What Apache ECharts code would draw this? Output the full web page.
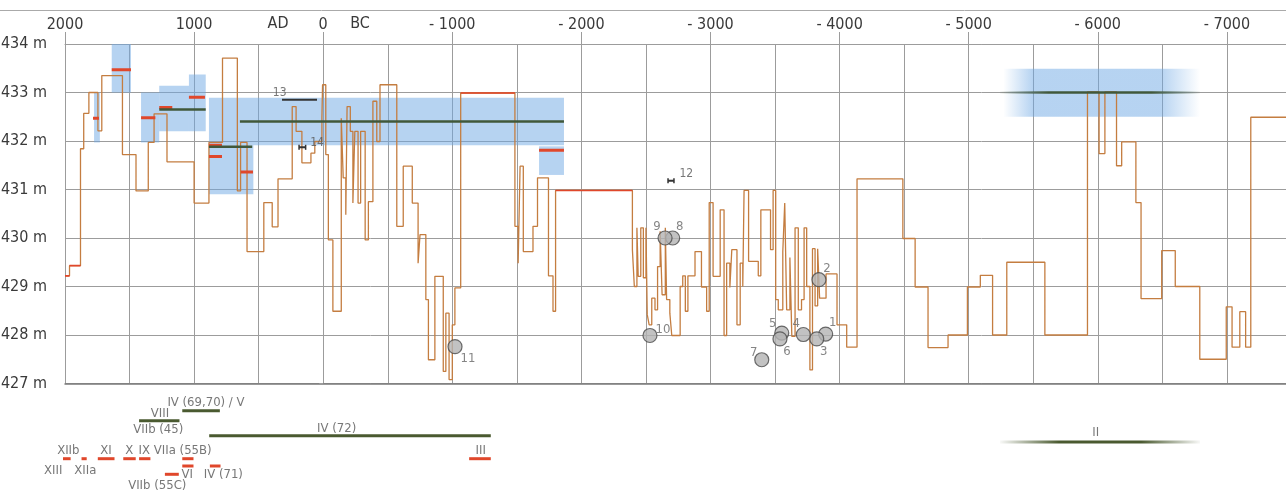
<!DOCTYPE html>
<html><head><meta charset="utf-8">
<script src="https://cdn.jsdelivr.net/npm/echarts@6/dist/echarts.min.js"></script>
<style>html,body{margin:0;padding:0;background:#fff}#c{width:1286px;height:493px}</style>
</head><body><div id="c"></div>
<script>
// ---------------- DATA ----------------
// x tick labels (years; negative = BC)
const yearTicks = [2000, 1000, 0, -1000, -2000, -3000, -4000, -5000, -6000, -7000];
const eraLabels = [['AD', 350], ['BC', -285]];
const levelTicks = [427, 428, 429, 430, 431, 432, 433, 434];

// reconstructed lake level curve: [year, level m] (each level holds until next year)
const levelCurve = [
[2000,429.22],[1965,429.43],[1880,431.84],[1855,432.57],[1815,433.0],[1745,432.21],[1715,433.35],[1555,431.72],
[1450,430.97],[1355,431.97],[1310,432.56],[1210,431.57],[1000,430.72],[885,431.97],[780,433.71],[665,430.97],
[640,431.97],[590,429.72],[460,430.73],[395,430.23],[350,431.22],[240,432.71],[210,432.2],[165,431.55],
[95,431.75],[65,431.99],[10,432.47],[5,433.16],[-20,431.72],[-40,429.96],[-75,428.49],[-140,432.47],
[-155,431.24],[-175,430.48],[-185,432.71],[-210,432.2],[-230,430.72],[-245,432.2],[-270,430.72],[-290,432.2],
[-325,429.96],[-350,430.75],[-385,432.82],[-415,431.99],[-440,433.16],[-570,430.24],[-620,431.48],[-690,430.72],
[-735,429.48],[-750,430.07],[-795,428.73],[-815,427.49],[-865,429.21],[-930,427.25],[-950,428.45],[-975,427.08],
[-1000,428.21],[-1020,428.97],[-1065,432.99],[-1485,430.24],[-1510,429.48],[-1525,431.48],[-1550,429.72],
[-1625,430.24],[-1660,431.24],[-1745,429.22],[-1780,428.49],[-1800,430.98],[-2395,429.76],[-2410,429.0],
[-2430,430.21],[-2440,429.21],[-2460,430.21],[-2480,429.18],[-2500,430.21],[-2510,428.42],[-2525,428.21],
[-2545,428.76],[-2570,428.52],[-2590,429.41],[-2610,430.14],[-2625,428.83],[-2650,430.21],[-2660,428.73],
[-2685,428.45],[-2700,427.99],[-2765,429.0],[-2785,429.22],[-2805,428.49],[-2825,429.22],[-2880,429.72],
[-2930,428.99],[-2970,428.49],[-2990,430.73],[-3020,429.21],[-3075,430.58],[-3105,427.99],[-3125,429.48],
[-3150,428.98],[-3165,429.76],[-3205,428.21],[-3230,429.48],[-3250,429.0],[-3260,430.98],[-3295,429.52],
[-3370,429.22],[-3390,430.58],[-3465,429.76],[-3485,430.98],[-3505,428.73],[-3525,428.52],[-3560,429.72],
[-3575,430.72],[-3590,428.52],[-3615,429.6],[-3630,427.97],[-3655,430.21],[-3680,428.52],[-3705,428.73],
[-3725,430.21],[-3745,429.0],[-3770,427.28],[-3790,429.78],[-3810,428.6],[-3830,429.78],[-3845,428.76],
[-3895,429.26],[-3980,428.21],[-4055,427.75],[-4135,431.22],[-4490,429.99],[-4585,428.99],[-4685,427.74],
[-4840,428.0],[-4990,428.99],[-5090,429.23],[-5185,428.0],[-5295,429.5],[-5590,428.0],[-5920,433.01],
[-6010,431.74],[-6055,433.01],[-6145,431.49],[-6185,431.98],[-6295,430.73],[-6335,428.75],[-6495,429.74],
[-6600,429.0],[-6790,427.5],[-6995,428.58],[-7040,427.75],[-7100,428.48],[-7145,427.75],[-7185,432.49],[-8000,432.49]
];
// parts of the curve drawn in red: [from, to, level]
const redCurveParts = [[2000,1965,429.22],[1965,1880,429.43],[-1065,-1485,432.99],[-1800,-2395,430.98]];

// blue uncertainty boxes: [from, to, lowLevel, highLevel]
const blueBoxes = [
[1638,1489,433.0,434.0],[1775,1730,431.97,433.0],[1411,1270,431.97,433.0],[1270,1040,432.2,433.14],
[1040,910,432.2,433.37],[885,-1865,431.91,432.89],[885,541,430.9,431.91],[-1672,-1865,431.3,431.89]
];
const fuzzyBlueBox = [-5268,-6792,432.5,433.49];

// settlement phase levels: [from, to, level]
const redMarks = [
[1638,1489,433.47],[1783,1737,432.47],[1411,1300,432.48],[1270,1169,432.69],[1040,916,432.9],
[885,784,431.91],[885,784,431.68],[639,544,431.36],[-1672,-1865,431.81]
];
const greenMarks = [[1270,910,432.65],[885,550,431.88],[645,-1865,432.4]];
const fuzzyGreenMark = [-5243,-6792,433.0];
const blackMarks = [['13',319,48,432.85],['14',187,136,431.87],['12',-2671,-2717,431.18]];

// numbered sample points: [id, year, level]
const samples = [
['1',-3892,428.02],['2',-3840,429.14],['3',-3823,427.92],['4',-3719,428.01],['5',-3552,428.04],
['6',-3538,427.92],['7',-3397,427.49],['8',-2707,430.0],['9',-2648,430.0],['10',-2531,427.99],['11',-1021,427.76]
];

// phase bars under the chart: [name, from, to, row, colour kind]
const phaseBars = [
['IV (69,70) / V',885,550,1.07,'g'],['VIII',1270,910,2.07,'g'],['IV (72)',645,-1865,3.57,'g'],
['XIII',2000,1965,5.87,'r'],['XIIb',1965,1880,5.87,'r'],['XIIa',1783,1737,5.87,'r'],['XI',1638,1489,5.87,'r'],
['X',1411,1300,5.87,'r'],['IX',1270,1169,5.87,'r'],['VIIa (55B)',885,785,5.87,'r'],['III',-1672,-1865,5.87,'r'],
['VI',885,785,6.6,'r'],['IV (71)',639,544,6.6,'r'],['VIIb (55C)',1040,916,7.43,'r']
];
const phaseBarII = ['II',-5243,-6792,4.2];
// phase label anchors: [text, year, row]
const phaseLabels = [
['IV (69,70) / V',674,0.27],['VIII',1084,1.33],['VIIb (45)',1099,2.93],['IV (72)',-491,2.83],
['XIII',2035,7.07],['XIIb',1901,5.1],['XIIa',1749,7.07],['XI',1565,5.1],['X',1357,5.1],['IX',1224,5.1],
['VIIa (55B)',881,5.1],['III',-1775,5.1],['VI',841,7.43],['IV (71)',519,7.43],['VIIb (55C)',1108,8.6]
];
const phaseLabelII = ['II',-5984,3.27];

// ---------------- STYLE ----------------
const FONT = "'Liberation Sans Narrow','DejaVu Sans Condensed',Roboto,sans-serif";
const GRIDC = '#9c9c9c';
const BROWN = '#c47d40', RED = '#e0472b', GREEN = '#40583a', BLUE = 'rgba(110,168,228,0.5)';
const G = {left:65, top:44, height:339.5, width:1291};
const W = G.width;
const K = 0.869, B = 0.7; // phase strip scale relative to main axis
const compMax = 2000 - (G.left - K*G.left - B)*10000/(K*W);
const compMin = 2000 - (G.left + W - K*G.left - B)*10000/(K*W);
const sampleLabelOffset = {'1':[7,-11],'2':[8,-11],'3':[7,13],'4':[-7,-11],'5':[-9,-9],'6':[7,13],'7':[-8,-7],'8':[7,-11],'9':[-8,-11],'10':[13,-6],'11':[13,12]};
const blackLabelOffset = {'13':{pos:'left',off:[10,-7]},'14':{pos:'right',off:[-1,-4]},'12':{pos:'right',off:[0,-7]}};
const phaseLabelColor = '#555';

function fmtYear(v){ if (v === 0) return '0'; return v > 0 ? String(v) : '- ' + (-v); }

const series = [];
// blue boxes
series.push({
  type:'custom', xAxisIndex:0, yAxisIndex:0, z:1, silent:true,
  data: blueBoxes,
  encode:{x:[0,1], y:[2,3]},
  renderItem(params, api){
    const p1 = api.coord([api.value(0), api.value(3)]);
    const p2 = api.coord([api.value(1), api.value(2)]);
    return {type:'rect', shape:{x:Math.min(p1[0],p2[0]), y:Math.min(p1[1],p2[1]), width:Math.abs(p2[0]-p1[0]), height:Math.abs(p2[1]-p1[1])}, style:{fill:BLUE}};
  }
});
series.push({
  type:'custom', xAxisIndex:0, yAxisIndex:0, z:1, silent:true,
  data: [fuzzyBlueBox],
  encode:{x:[0,1], y:[2,3]},
  renderItem(params, api){
    const p1 = api.coord([api.value(0), api.value(3)]);
    const p2 = api.coord([api.value(1), api.value(2)]);
    return {type:'rect', shape:{x:Math.min(p1[0],p2[0]), y:Math.min(p1[1],p2[1]), width:Math.abs(p2[0]-p1[0]), height:Math.abs(p2[1]-p1[1])},
      style:{fill:new echarts.graphic.LinearGradient(0,0,1,0,[
        {offset:0,color:'rgba(110,168,228,0)'},{offset:0.15,color:'rgba(110,168,228,0.5)'},
        {offset:0.8,color:'rgba(110,168,228,0.5)'},{offset:1,color:'rgba(110,168,228,0)'}])}};
  }
});
// main curve
series.push({type:'line', xAxisIndex:0, yAxisIndex:0, data:levelCurve, step:'end', showSymbol:false, z:3, silent:true,
  lineStyle:{color:BROWN, width:1.3}});
redCurveParts.forEach(p => series.push({type:'line', xAxisIndex:0, yAxisIndex:0, data:[[p[0],p[2]],[p[1],p[2]]], showSymbol:false, z:4, silent:true,
  lineStyle:{color:RED, width:1.6}}));
redMarks.forEach(p => series.push({type:'line', xAxisIndex:0, yAxisIndex:0, data:[[p[0],p[2]],[p[1],p[2]]], showSymbol:false, z:5, silent:true,
  lineStyle:{color:RED, width:3}}));
greenMarks.forEach(p => series.push({type:'line', xAxisIndex:0, yAxisIndex:0, data:[[p[0],p[2]],[p[1],p[2]]], showSymbol:false, z:6, silent:true,
  lineStyle:{color:GREEN, width:2.5}}));
series.push({type:'line', xAxisIndex:0, yAxisIndex:0, data:[[fuzzyGreenMark[0],fuzzyGreenMark[2]],[fuzzyGreenMark[1],fuzzyGreenMark[2]]], showSymbol:false, z:6, silent:true,
  lineStyle:{width:2.5, color:new echarts.graphic.LinearGradient(0,0,1,0,[
    {offset:0,color:'rgba(64,88,58,0)'},{offset:0.25,color:GREEN},{offset:0.75,color:GREEN},{offset:1,color:'rgba(64,88,58,0)'}])}});
blackMarks.forEach(p => {
  series.push({type:'line', xAxisIndex:0, yAxisIndex:0, data:[[p[1],p[3]],[p[2],p[3]]], z:7, silent:true,
    symbol: p[0]==='13' ? 'none' : 'rect', symbolSize:[1.5,5], showSymbol: p[0] !== '13',
    itemStyle:{color:'#333'}, lineStyle:{color:'#333', width:2}});
});
// labels for black marks
series.push({type:'scatter', xAxisIndex:0, yAxisIndex:0, symbolSize:1, itemStyle:{color:'rgba(0,0,0,0)'}, z:8, silent:true,
  data: blackMarks.map(p => {
    const st = blackLabelOffset[p[0]];
    const x = st.pos === 'left' ? p[1] : p[2];
    return {value:[x,p[3]], label:{show:true, formatter:p[0], position:st.pos, offset:st.off, color:'#555', fontSize:12, fontFamily:FONT}};
  })});
// samples
series.push({type:'scatter', xAxisIndex:0, yAxisIndex:0, symbolSize:14, z:10, silent:true,
  itemStyle:{color:'#b3b3b3', borderColor:'#4a4a4a', borderWidth:1.2},
  data: samples.map(s => ({value:[s[1],s[2]], label:{show:true, formatter:s[0], position:'inside', offset:sampleLabelOffset[s[0]], color:'#666', fontSize:13, fontFamily:FONT}}))});

// phase strip
phaseBars.forEach(p => series.push({type:'line', xAxisIndex:2, yAxisIndex:1, data:[[p[1],p[3]],[p[2],p[3]]], showSymbol:false, clip:false, silent:true,
  lineStyle:{color: p[4]==='g' ? '#4a5a30' : RED, width:3}}));
series.push({type:'line', xAxisIndex:3, yAxisIndex:1, data:[[phaseBarII[1],phaseBarII[3]],[phaseBarII[2],phaseBarII[3]]], showSymbol:false, clip:false, silent:true,
  lineStyle:{width:3, color:new echarts.graphic.LinearGradient(0,0,1,0,[
    {offset:0,color:'rgba(74,90,48,0)'},{offset:0.3,color:'#4a5a30'},{offset:0.7,color:'#4a5a30'},{offset:1,color:'rgba(74,90,48,0)'}])}});
series.push({type:'scatter', xAxisIndex:2, yAxisIndex:1, symbolSize:1, clip:false, silent:true, itemStyle:{color:'rgba(0,0,0,0)'},
  data: phaseLabels.map(l => ({value:[l[1],l[2]], label:{show:true, formatter:l[0], position:'inside', color:phaseLabelColor, fontSize:13, fontFamily:FONT}}))});
series.push({type:'scatter', xAxisIndex:3, yAxisIndex:1, symbolSize:1, clip:false, silent:true, itemStyle:{color:'rgba(0,0,0,0)'},
  data: [{value:[phaseLabelII[1],phaseLabelII[2]], label:{show:true, formatter:phaseLabelII[0], position:'inside', color:phaseLabelColor, fontSize:13, fontFamily:FONT}}]});

const chart = echarts.init(document.getElementById('c'), null, {renderer:'canvas'});
chart.setOption({
  animation:false,
  backgroundColor:'#fff',
  grid:[
    {left:G.left, top:G.top, height:G.height, width:G.width, containLabel:false, outerBoundsMode:'none'},
    {left:G.left, top:400, height:90, width:G.width, containLabel:false, outerBoundsMode:'none'}
  ],
  xAxis:[
    {gridIndex:0, type:'value', position:'top', inverse:true, min:-8000, max:2000, interval:1000,
      axisLine:{show:true, lineStyle:{color:GRIDC, width:1}},
      axisTick:{show:true, length:12, lineStyle:{color:GRIDC}},
      axisLabel:{show:true, margin:11, fontSize:16, color:'#3a3a3a', fontFamily:FONT, showMinLabel:true, showMaxLabel:true,
        formatter:v => yearTicks.includes(v) ? fmtYear(v) : ''},
      splitLine:{show:true, lineStyle:{color:GRIDC, width:1}},
      minorTick:{show:false, splitNumber:2},
      minorSplitLine:{show:true, lineStyle:{color:GRIDC, width:1}}},
    {gridIndex:0, type:'value', position:'bottom', inverse:true, min:-8000, max:2000,
      axisLine:{show:true, lineStyle:{color:'#7a7a7a', width:1.5}}, axisTick:{show:false}, axisLabel:{show:false}, splitLine:{show:false}},
    {gridIndex:1, type:'value', position:'bottom', inverse:true, min:compMin, max:compMax, show:false},
    {gridIndex:1, type:'value', position:'top', inverse:true, min:-8000, max:2000, show:false}
  ],
  yAxis:[
    {gridIndex:0, type:'value', min:427, max:434, interval:1,
      axisLine:{show:true, lineStyle:{color:GRIDC}},
      axisTick:{show:true, length:4, lineStyle:{color:GRIDC}},
      axisLabel:{margin:18, fontSize:16, color:'#3a3a3a', fontFamily:FONT, formatter:v => levelTicks.includes(v) ? v + ' m' : ''},
      splitLine:{show:true, lineStyle:{color:GRIDC, width:1}}},
    {gridIndex:1, type:'value', min:0, max:9, inverse:true, show:false}
  ],
  graphic:[
    {type:'line', shape:{x1:0, y1:10.5, x2:1286, y2:10.5}, style:{stroke:'#aaa', lineWidth:1}, silent:true},
    ...eraLabels.map(e => ({type:'text', x: G.left + (2000 - e[1]) * W / 10000, y:24,
      style:{text:e[0], font:'16px ' + FONT, fill:'#3a3a3a', textAlign:'center', textVerticalAlign:'middle'}, silent:true}))
  ],
  series
});
</script>
</body></html>
